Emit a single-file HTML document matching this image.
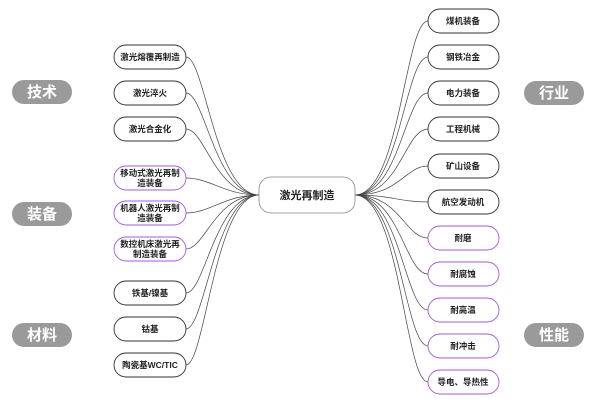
<!DOCTYPE html>
<html><head><meta charset="utf-8"><style>
body{margin:0;background:#fff;width:600px;height:400px;overflow:hidden;font-family:"Liberation Sans","Noto Sans CJK SC",sans-serif}
</style></head><body>
<svg width="600" height="400" xmlns="http://www.w3.org/2000/svg" font-family="Liberation Sans, Noto Sans CJK SC, sans-serif">
<g fill="none" stroke="#444" stroke-width="0.7">
<path d="M259,195 C215,195 205,57 186,57"/>
<path d="M259,195 C215,195 205,93 186,93"/>
<path d="M259,195 C215,195 205,129 186,129"/>
<path d="M259,195 C225,195 210,178 186,178"/>
<path d="M259,195 C225,195 210,213 186,213"/>
<path d="M259,195 C215,195 205,249 186,249"/>
<path d="M259,195 C215,195 205,293 186,293"/>
<path d="M259,195 C215,195 205,329 186,329"/>
<path d="M259,195 C215,195 205,365 186,365"/>
<path d="M355,195 C400,195 405,21 428,21"/>
<path d="M355,195 C400,195 405,57 428,57"/>
<path d="M355,195 C400,195 405,93 428,93"/>
<path d="M355,195 C400,195 405,129 428,129"/>
<path d="M355,195 C400,195 405,166 428,166"/>
<path d="M355,195 C390,195 400,202 428,202"/>
<path d="M355,195 C400,195 405,238 428,238"/>
<path d="M355,195 C400,195 405,274 428,274"/>
<path d="M355,195 C400,195 405,310 428,310"/>
<path d="M355,195 C400,195 405,346 428,346"/>
<path d="M355,195 C400,195 405,382 428,382"/>
</g>
<rect x="259" y="177" width="96" height="36" rx="12" fill="#fff" stroke="#888" stroke-width="0.8"/>
<text x="307" y="199" font-size="11" font-weight="bold" text-anchor="middle" fill="#222">激光再制造</text>
<g font-size="24" font-weight="bold" fill="#fff" text-anchor="middle">
<rect x="12" y="80" width="60" height="24" rx="12" fill="#9a9a9a"/><text x="42" y="97" font-size="15">技术</text>
<rect x="12" y="202" width="60" height="24" rx="12" fill="#9a9a9a"/><text x="42" y="219" font-size="15">装备</text>
<rect x="12" y="323" width="60" height="24" rx="12" fill="#9a9a9a"/><text x="42" y="340" font-size="15">材料</text>
<rect x="524" y="81" width="60" height="24" rx="12" fill="#9a9a9a"/><text x="554" y="98" font-size="15">行业</text>
<rect x="524" y="323" width="60" height="24" rx="12" fill="#9a9a9a"/><text x="554" y="340" font-size="15">性能</text>
</g>
<g font-size="8.5" font-weight="bold" fill="#222" text-anchor="middle" stroke-width="0.9">
<rect x="114" y="45" width="72" height="24" rx="12" fill="#fff" stroke="#333"/><text x="150" y="60">激光熔覆再制造</text>
<rect x="114" y="81" width="72" height="24" rx="12" fill="#fff" stroke="#333"/><text x="150" y="96">激光淬火</text>
<rect x="114" y="117" width="72" height="24" rx="12" fill="#fff" stroke="#333"/><text x="150" y="132">激光合金化</text>
<rect x="114" y="166" width="72" height="24" rx="12" fill="#fff" stroke="#9b59f0"/><text x="150" y="176">移动式激光再制</text><text x="150" y="186">造装备</text>
<rect x="114" y="201" width="72" height="24" rx="12" fill="#fff" stroke="#9b59f0"/><text x="150" y="211">机器人激光再制</text><text x="150" y="221">造装备</text>
<rect x="114" y="237" width="72" height="24" rx="12" fill="#fff" stroke="#9b59f0"/><text x="150" y="247">数控机床激光再</text><text x="150" y="257">制造装备</text>
<rect x="114" y="281" width="72" height="24" rx="12" fill="#fff" stroke="#333"/><text x="150" y="296">铁基/镍基</text>
<rect x="114" y="317" width="72" height="24" rx="12" fill="#fff" stroke="#333"/><text x="150" y="332">钴基</text>
<rect x="114" y="353" width="72" height="24" rx="12" fill="#fff" stroke="#333"/><text x="150" y="368">陶瓷基WC/TIC</text>
<rect x="428" y="9" width="71" height="24" rx="12" fill="#fff" stroke="#333"/><text x="463" y="24">煤机装备</text>
<rect x="428" y="45" width="71" height="24" rx="12" fill="#fff" stroke="#333"/><text x="463" y="60">钢铁冶金</text>
<rect x="428" y="81" width="71" height="24" rx="12" fill="#fff" stroke="#333"/><text x="463" y="96">电力装备</text>
<rect x="428" y="117" width="71" height="24" rx="12" fill="#fff" stroke="#333"/><text x="463" y="132">工程机械</text>
<rect x="428" y="154" width="71" height="24" rx="12" fill="#fff" stroke="#333"/><text x="463" y="169">矿山设备</text>
<rect x="428" y="190" width="71" height="24" rx="12" fill="#fff" stroke="#333"/><text x="463" y="205">航空发动机</text>
<rect x="428" y="226" width="71" height="24" rx="12" fill="#fff" stroke="#9b59f0"/><text x="463" y="241">耐磨</text>
<rect x="428" y="262" width="71" height="24" rx="12" fill="#fff" stroke="#9b59f0"/><text x="463" y="277">耐腐蚀</text>
<rect x="428" y="298" width="71" height="24" rx="12" fill="#fff" stroke="#9b59f0"/><text x="463" y="313">耐高温</text>
<rect x="428" y="334" width="71" height="24" rx="12" fill="#fff" stroke="#9b59f0"/><text x="463" y="349">耐冲击</text>
<rect x="428" y="370" width="71" height="24" rx="12" fill="#fff" stroke="#9b59f0"/><text x="463" y="385">导电、导热性</text>
</g>
</svg>
</body></html>
